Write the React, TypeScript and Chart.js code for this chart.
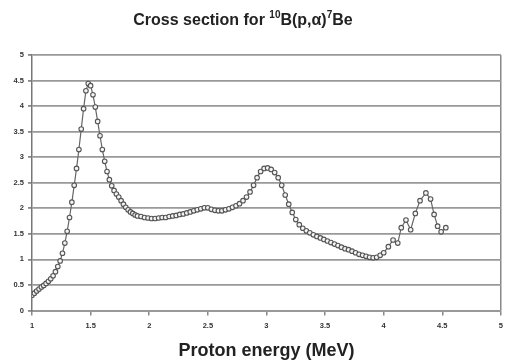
import { useEffect, useRef } from "react";
import { Chart, registerables } from "chart.js";

Chart.register(...registerables);

const energies = [
  1.0, 1.02, 1.04, 1.06, 1.08, 1.1, 1.12, 1.14, 1.16, 1.18, 1.2, 1.22, 1.24, 1.26, 1.28, 1.3,
  1.32, 1.34, 1.36, 1.38, 1.4, 1.42, 1.44, 1.46, 1.48, 1.5, 1.52, 1.54, 1.56, 1.58, 1.6, 1.62,
  1.64, 1.66, 1.68, 1.7, 1.72, 1.74, 1.76, 1.78, 1.8, 1.82, 1.84, 1.86, 1.88, 1.9, 1.93, 1.96,
  1.99, 2.02, 2.05, 2.08, 2.11, 2.14, 2.17, 2.2, 2.23, 2.26, 2.29, 2.32, 2.35, 2.38, 2.41, 2.44,
  2.47, 2.5, 2.53, 2.56, 2.59, 2.62, 2.65, 2.68, 2.71, 2.74, 2.77, 2.8, 2.83, 2.86, 2.89, 2.92,
  2.95, 2.98, 3.01, 3.04, 3.07, 3.1, 3.13, 3.16, 3.19, 3.22, 3.25, 3.28, 3.31, 3.34, 3.37, 3.4,
  3.43, 3.46, 3.49, 3.52, 3.55, 3.58, 3.61, 3.64, 3.67, 3.7, 3.73, 3.76, 3.79, 3.82, 3.85, 3.88,
  3.91, 3.94, 3.97, 4.0, 4.04, 4.08, 4.12, 4.15, 4.19, 4.23, 4.27, 4.31, 4.36, 4.4, 4.43, 4.46,
  4.49, 4.53,
];

const crossSection = [
  0.3, 0.34, 0.38, 0.42, 0.46, 0.49, 0.53, 0.57, 0.62, 0.68, 0.76, 0.86, 0.97, 1.12, 1.32, 1.55,
  1.82, 2.12, 2.45, 2.78, 3.15, 3.55, 3.95, 4.3, 4.44, 4.4, 4.22, 3.98, 3.7, 3.42, 3.15, 2.92,
  2.72, 2.56, 2.44, 2.35, 2.28, 2.22, 2.15, 2.08, 2.02, 1.97, 1.93, 1.9, 1.87, 1.85, 1.84, 1.82,
  1.81, 1.8, 1.8, 1.81, 1.82, 1.82, 1.84, 1.85, 1.86, 1.88, 1.89, 1.91, 1.93, 1.95, 1.97, 1.99,
  2.01, 2.01, 1.98, 1.96, 1.95, 1.95, 1.97, 1.99, 2.02, 2.05, 2.09, 2.15, 2.22, 2.32, 2.45, 2.6,
  2.72, 2.78, 2.79, 2.76, 2.7, 2.6, 2.45, 2.26, 2.08, 1.92, 1.78, 1.68, 1.61, 1.56, 1.52, 1.48,
  1.45, 1.42, 1.39, 1.36, 1.33, 1.3, 1.27, 1.24, 1.21, 1.19, 1.16, 1.13, 1.1, 1.08, 1.06, 1.04,
  1.03, 1.04, 1.08, 1.13, 1.25, 1.38, 1.32, 1.62, 1.77, 1.58, 1.9, 2.15, 2.3, 2.18, 1.88, 1.65,
  1.54, 1.62,
];

const xTickValues = [1, 1.5, 2, 2.5, 3, 3.5, 4, 4.5, 5];
const xTickLabels = ["1", "1.5", "2", "2.5", "3", "3.5", "4", "4.5", "5"];
const yTickValues = [0, 0.5, 1, 1.5, 2, 2.5, 3, 3.5, 4, 4.5, 5];
const yTickLabels = ["0", "0.5", "1", "1.5", "2", "2.5", "3", "3.5", "4", "4.5", "5"];

const titleParts = [
  { text: "Cross section for ", sup: false },
  { text: "10", sup: true },
  { text: "B(p,α)", sup: false },
  { text: "7", sup: true },
  { text: "Be", sup: false },
];
const xAxisTitle = "Proton energy (MeV)";

const FONT = "'Liberation Sans', Arial, sans-serif";

export default function App() {
  const ref = useRef<HTMLCanvasElement>(null);

  useEffect(() => {
    if (!ref.current) return;
    const points = energies.map((e, i) => ({ x: e, y: crossSection[i] }));

    const titlePlugin = {
      id: "supTitle",
      afterDraw(chart: any) {
        const ctx = chart.ctx;
        ctx.save();
        ctx.fillStyle = "#222";
        ctx.textBaseline = "alphabetic";
        const normal = `bold 16px ${FONT}`;
        const small = `bold 10px ${FONT}`;
        let total = 0;
        for (const p of titleParts) {
          ctx.font = p.sup ? small : normal;
          total += ctx.measureText(p.text).width;
        }
        let x = 243 - total / 2;
        const base = 25;
        for (const p of titleParts) {
          ctx.font = p.sup ? small : normal;
          ctx.fillText(p.text, x, p.sup ? base - 7 : base);
          x += ctx.measureText(p.text).width;
        }
        ctx.restore();
      },
    };

    const chart = new Chart(ref.current, {
      type: "scatter",
      data: {
        datasets: [
          {
            data: points,
            showLine: true,
            borderColor: "#666666",
            borderWidth: 1.2,
            pointRadius: 2.3,
            pointBackgroundColor: "#f4f4f4",
            pointBorderColor: "#555555",
            pointBorderWidth: 1.1,
          },
        ],
      },
      options: {
        animation: false,
        responsive: false,
        layout: { padding: { top: 55, right: 6, left: 0, bottom: 0 } },
        plugins: {
          legend: { display: false },
          tooltip: { enabled: false },
          title: { display: false },
        },
        scales: {
          x: {
            type: "linear",
            min: 1,
            max: 5,
            afterBuildTicks: (s: any) => {
              s.ticks = xTickValues.map((v) => ({ value: v }));
            },
            afterFit: (s: any) => {
              s.height = 49.5;
            },
            ticks: {
              autoSkip: false,
              maxRotation: 0,
              padding: 6,
              color: "#333",
              font: { family: FONT, size: 7.5, weight: "bold" },
              callback: (v: any) => {
                const i = xTickValues.indexOf(Number(v));
                return i >= 0 ? xTickLabels[i] : "";
              },
            },
            grid: {
              color: (c: any) => (c.tick && c.tick.value === 5 ? "#888888" : "rgba(0,0,0,0)"),
              tickColor: "#888888",
              tickLength: 5,
              lineWidth: 1.5,
            },
            border: { color: "#999999", width: 2 },
            title: {
              display: true,
              text: xAxisTitle,
              color: "#222",
              font: { family: FONT, size: 18, weight: "bold", lineHeight: 1 },
              padding: { top: 0, bottom: 0 },
            },
          },
          y: {
            type: "linear",
            min: 0,
            max: 5,
            afterBuildTicks: (s: any) => {
              s.ticks = yTickValues.map((v) => ({ value: v }));
            },
            afterFit: (s: any) => {
              s.width = 32;
            },
            ticks: {
              padding: 4,
              color: "#333",
              font: { family: FONT, size: 7.5, weight: "bold" },
              callback: (v: any) => {
                const i = yTickValues.indexOf(Number(v));
                return i >= 0 ? yTickLabels[i] : "";
              },
            },
            grid: {
              color: "#999999",
              tickColor: "#888888",
              tickLength: 4,
              lineWidth: 1.8,
            },
            border: { color: "#777777", width: 1.5 },
          },
        },
      },
      plugins: [titlePlugin],
    } as any);

    return () => chart.destroy();
  }, []);

  return (
    <div style={{ position: "fixed", left: 0, top: 0, width: 509, height: 360, background: "#fff" }}>
      <canvas ref={ref} width={509} height={360} style={{ display: "block" }} />
    </div>
  );
}
